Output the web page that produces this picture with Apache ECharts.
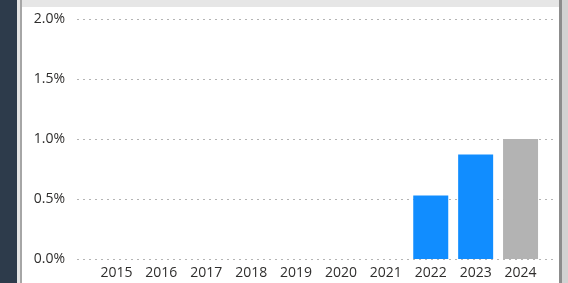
<!DOCTYPE html>
<html>
<head>
<meta charset="utf-8">
<title>Bar chart</title>
<script src="https://cdn.jsdelivr.net/npm/echarts@6.0.0/dist/echarts.min.js"></script>
<style>
  html, body { margin: 0; padding: 0; background: #fff; }
  #container { width: 568px; height: 283px; }
</style>
</head>
<body>
<div id="container"></div>
<script type="text/javascript">
var years = ['2015', '2016', '2017', '2018', '2019', '2020', '2021', '2022', '2023', '2024'];
// percent values, earlier years have no bar
var blueValues = [null, null, null, null, null, null, null, 0.53, 0.87, null];
var grayValues = [null, null, null, null, null, null, null, null, null, 1.0];
var yTicks = [0, 0.5, 1.0, 1.5, 2.0];

var textColor = '#2f2e2d';
var fontFam = '"Open Sans", "DejaVu Sans", sans-serif';

var chart = echarts.init(document.getElementById('container'), null, { renderer: 'canvas' });

var option = {
    animation: false,
    backgroundColor: '#ffffff',
    graphic: [
        // frame around the visual
        { type: 'rect', shape: { x: 0, y: 0, width: 17, height: 283 }, style: { fill: '#2d3b4b' }, z: 100 },
        { type: 'rect', shape: { x: 17, y: 0, width: 3, height: 283 }, style: { fill: '#e4e4e4' }, z: 100 },
        { type: 'rect', shape: { x: 20, y: 0, width: 2, height: 283 }, style: { fill: '#a6a6a6' }, z: 100 },
        { type: 'rect', shape: { x: 22, y: 0, width: 537, height: 7 }, style: { fill: '#e6e6e6' }, z: 100 },
        { type: 'rect', shape: { x: 559, y: 0, width: 3, height: 283 }, style: { fill: '#8c8c8c' }, z: 100 },
        { type: 'rect', shape: { x: 562, y: 0, width: 6, height: 283 }, style: { fill: '#d2d2d2' }, z: 100 }
    ],
    grid: [
        { left: 77, right: 15, top: 19, bottom: 24 },
        { left: 94, right: 25, top: 19, bottom: 24 }
    ],
    xAxis: [
        { gridIndex: 0, type: 'value', show: false, min: 0, max: 1 },
        {
            gridIndex: 1,
            type: 'category',
            data: years,
            axisLine: { show: false },
            axisTick: { show: false },
            axisLabel: { color: textColor, fontSize: 14, fontFamily: fontFam, margin: 7 }
        }
    ],
    yAxis: [
        {
            gridIndex: 0,
            type: 'value',
            min: yTicks[0],
            max: yTicks[yTicks.length - 1],
            interval: 0.5,
            axisLine: { show: false },
            axisTick: { show: false },
            axisLabel: {
                color: textColor,
                fontSize: 14,
                fontFamily: fontFam,
                margin: 12,
                formatter: function (v) { return v.toFixed(1) + '%'; }
            },
            splitLine: { lineStyle: { color: '#b4b4b4', width: 1, type: [2, 4] } }
        },
        {
            gridIndex: 1,
            type: 'value',
            min: yTicks[0],
            max: yTicks[yTicks.length - 1],
            show: false,
            splitLine: { show: false }
        }
    ],
    series: [
        {
            type: 'bar',
            xAxisIndex: 1,
            yAxisIndex: 1,
            stack: 'v',
            data: blueValues,
            barWidth: 35,
            itemStyle: { color: '#118dff' }
        },
        {
            type: 'bar',
            xAxisIndex: 1,
            yAxisIndex: 1,
            stack: 'v',
            data: grayValues,
            barWidth: 35,
            itemStyle: { color: '#b3b3b3' }
        }
    ]
};

chart.setOption(option);
</script>
</body>
</html>
